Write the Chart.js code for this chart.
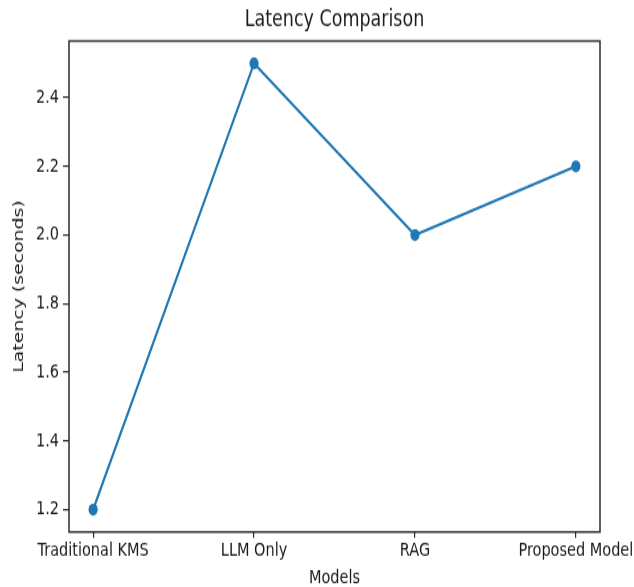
<!DOCTYPE html>
<html>
<head>
<meta charset="utf-8">
<script src="https://cdn.jsdelivr.net/npm/chart.js@4/dist/chart.umd.min.js"></script>
<style>
  html, body { margin: 0; padding: 0; background: #fff; }
  /* the drawing surface is rendered shorter and stretched vertically to fill the page */
  #c { display: block; }
</style>
</head>
<body>
<canvas id="c" width="634" height="451" style="width:634px;height:587px;"></canvas>
<script>
// Latency per model type
const models = ['Traditional KMS', 'LLM Only', 'RAG', 'Proposed Model'];
const latency = [1.2, 2.5, 2.0, 2.2];
const yTicks = [1.2, 1.4, 1.6, 1.8, 2.0, 2.2, 2.4];

const FONT = "'DejaVu Sans', sans-serif";
const INK = '#1a1a1a';

// Frame around the plotting area plus the chart title
const framePlugin = {
  id: 'frame',
  afterDraw(chart) {
    const { ctx, chartArea: a } = chart;
    ctx.save();
    ctx.strokeStyle = '#2a2a2a';
    ctx.lineWidth = 1.5;
    ctx.strokeRect(a.left, a.top, a.right - a.left, a.bottom - a.top);
    ctx.fillStyle = INK;
    ctx.font = "17.5px " + FONT;
    ctx.textAlign = 'center';
    ctx.textBaseline = 'middle';
    ctx.fillText('Latency Comparison', (a.left + a.right) / 2, 15.4);
    ctx.restore();
  }
};

new Chart(document.getElementById('c'), {
  type: 'line',
  data: {
    datasets: [{
      data: latency.map((v, i) => ({ x: i, y: v })),
      borderColor: '#1f77b4',
      backgroundColor: '#1f77b4',
      borderWidth: 2.2,
      pointRadius: 4.6,
      pointHoverRadius: 4.6,
      pointBorderWidth: 0,
      tension: 0,
      fill: false
    }]
  },
  options: {
    responsive: false,
    animation: false,
    devicePixelRatio: 1,
    layout: { padding: { top: 31.5, right: 34, left: 0, bottom: 0 } },
    plugins: { legend: { display: false }, tooltip: { enabled: false }, title: { display: false } },
    scales: {
      x: {
        type: 'linear',
        min: -0.15,
        max: 3.15,
        afterBuildTicks(scale) { scale.ticks = models.map((_, i) => ({ value: i })); },
        afterFit(scale) {
          scale.height = 42.3;
          // labels may overhang the plot edges; keep the plot width fixed
          scale.paddingLeft = 0;
          scale.paddingRight = 0;
        },
        ticks: {
          callback: (v) => models[v] ?? '',
          font: { family: FONT, size: 14.5 },
          color: INK,
          padding: 1,
          maxRotation: 0,
          autoSkip: false
        },
        grid: { drawOnChartArea: false, drawTicks: true, tickLength: 4.6, color: '#2a2a2a', lineWidth: 1.2 },
        border: { display: false },
        title: {
          display: true,
          text: 'Models',
          font: { family: FONT, size: 14.5, lineHeight: 1 },
          color: INK,
          padding: { top: 0, bottom: 0 }
        }
      },
      y: {
        type: 'linear',
        min: 1.135,
        max: 2.565,
        afterBuildTicks(scale) { scale.ticks = yTicks.map(v => ({ value: v })); },
        afterFit(scale) { scale.width = 69; },
        ticks: {
          callback: (v) => v.toFixed(1),
          font: { family: FONT, size: 14.5 },
          color: INK,
          padding: 4
        },
        grid: { drawOnChartArea: false, drawTicks: true, tickLength: 6, color: '#2a2a2a', lineWidth: 1.2 },
        border: { display: false },
        title: {
          display: true,
          text: 'Latency (seconds)',
          font: { family: FONT, size: 14.5 },
          color: INK,
          padding: { top: 11, bottom: 0 }
        }
      }
    }
  },
  plugins: [framePlugin]
});
</script>
</body>
</html>
